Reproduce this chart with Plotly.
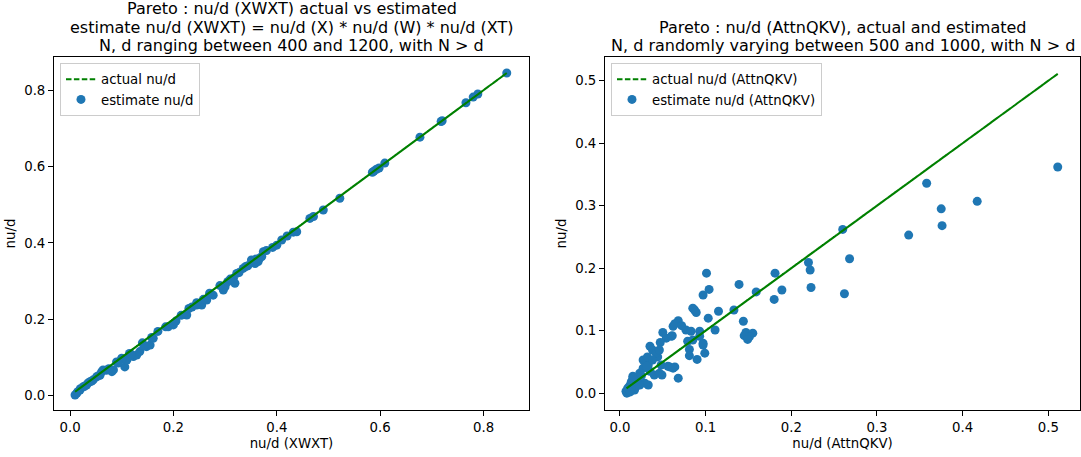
import plotly.graph_objects as go

# ---- XWXT: actual nu/d vs estimated nu/d (product of X, W, XT) ----
# values kept in the order they were computed (not sorted)
xwxt_actual = [
    0.0193, 0.845, 0.013, 0.789, 0.0097, 0.780, 0.0257, 0.766, 0.032, 0.720,
    0.0387, 0.718, 0.045, 0.677, 0.0516, 0.609, 0.061, 0.598, 0.064, 0.593,
    0.081, 0.588, 0.084, 0.585, 0.100, 0.522, 0.106, 0.490, 0.110, 0.471,
    0.1225, 0.464, 0.129, 0.4386, 0.135, 0.4096, 0.148, 0.400, 0.155, 0.374,
    0.161, 0.371, 0.190, 0.364, 0.200, 0.358, 0.2258, 0.351, 0.245, 0.335,
    0.2548, 0.3225, 0.2645, 0.316, 0.277, 0.319, 0.2966, 0.300,
    0.020, 0.432, 0.035, 0.392, 0.055, 0.367, 0.070, 0.344, 0.090, 0.327,
    0.100, 0.305, 0.115, 0.258, 0.140, 0.236, 0.170, 0.205, 0.185, 0.158,
    0.215, 0.143, 0.230, 0.118, 0.245, 0.093, 0.270, 0.075, 0.290, 0.058,
    0.310, 0.042, 0.340, 0.028, 0.360, 0.015, 0.380, 0.420,
]
xwxt_estimate = [
    0.0144, 0.845, 0.0058, 0.790, 0.0013, 0.782, 0.023, 0.767, 0.0275, 0.720,
    0.036, 0.718, 0.041, 0.677, 0.049, 0.609, 0.062, 0.596, 0.067, 0.593,
    0.0625, 0.588, 0.067, 0.585, 0.0975, 0.517, 0.075, 0.486, 0.093, 0.469,
    0.102, 0.464, 0.106, 0.429, 0.115, 0.4075, 0.128, 0.394, 0.132, 0.377,
    0.150, 0.364, 0.180, 0.351, 0.185, 0.346, 0.211, 0.355, 0.237, 0.333,
    0.237, 0.320, 0.250, 0.307, 0.263, 0.294, 0.2765, 0.285,
    0.018, 0.428, 0.033, 0.388, 0.052, 0.360, 0.066, 0.340, 0.088, 0.322,
    0.095, 0.298, 0.110, 0.252, 0.138, 0.232, 0.168, 0.195, 0.180, 0.152,
    0.210, 0.130, 0.228, 0.108, 0.243, 0.085, 0.268, 0.070, 0.288, 0.053,
    0.305, 0.038, 0.338, 0.024, 0.358, 0.010, 0.380, 0.418,
]

# ---- AttnQKV: actual nu/d vs estimated nu/d ----
attn_actual = [
    0.011, 0.511, 0.035, 0.358, 0.038, 0.417, 0.044, 0.375, 0.027, 0.376,
    0.033, 0.337, 0.035, 0.260, 0.040, 0.268, 0.049, 0.220, 0.058, 0.222,
    0.064, 0.223, 0.068, 0.262, 0.027, 0.181, 0.023, 0.189, 0.033, 0.180,
    0.029, 0.159, 0.015, 0.139, 0.014, 0.133, 0.019, 0.144, 0.042, 0.147,
    0.007, 0.155, 0.008, 0.151, 0.010, 0.145, 0.017, 0.149, 0.013, 0.101,
    0.021, 0.104, 0.032, 0.097, 0.054, 0.115, 0.087, 0.103, 0.062, 0.111,
    0.060, 0.085, 0.097, 0.089, 0.093, 0.077, 0.038, 0.083, 0.031, 0.079,
    0.048, 0.081, 0.056, 0.085, 0.062, 0.093, 0.046, 0.097, 0.023, 0.099,
    0.015, 0.090, 0.013, 0.081, 0.009, 0.068, 0.012, 0.064, 0.020, 0.061,
    0.025, 0.050, 0.072, 0.047, 0.046,
]
attn_estimate = [
    0.011, 0.362, 0.075, 0.336, 0.069, 0.307, 0.058, 0.295, 0.053, 0.268,
    0.045, 0.253, 0.035, 0.262, 0.029, 0.215, 0.029, 0.209, 0.042, 0.197,
    0.042, 0.169, 0.024, 0.159, 0.040, 0.192, 0.032, 0.165, 0.013, 0.150,
    0.016, 0.162, 0.027, 0.174, 0.019, 0.133, 0.011, 0.115, 0.064, 0.097,
    0.003, 0.096, 0.000, 0.090, 0.006, 0.092, 0.005, 0.086, 0.017, 0.192,
    0.019, 0.166, 0.058, 0.157, 0.088, 0.131, 0.133, 0.120, 0.107, 0.101,
    0.091, 0.136, 0.080, 0.129, 0.099, 0.101, 0.053, 0.099, 0.043, 0.083,
    0.045, 0.070, 0.043, 0.085, 0.040, 0.091, 0.032, 0.077, 0.013, 0.064,
    0.024, 0.054, 0.005, 0.060, 0.008, 0.116, 0.002, 0.111, 0.023, 0.092,
    0.028, 0.097, 0.108, 0.081, 0.069,
]

left_ticks = [0.0, 0.2, 0.4, 0.6, 0.8]
right_ticks = [0.0, 0.1, 0.2, 0.3, 0.4, 0.5]

left_title = [
    "Pareto : nu/d (XWXT) actual vs estimated",
    "estimate nu/d (XWXT) = nu/d (X) * nu/d (W) * nu/d (XT)",
    "N, d ranging between 400 and 1200, with N > d",
]
right_title = [
    "Pareto : nu/d (AttnQKV), actual and estimated",
    "N, d randomly varying between 500 and 1000, with N > d",
]

FONT = "DejaVu Sans"
BLUE = "#1f77b4"
GREEN = "#008000"
DASH = "5.5px,2.4px"
W, H = 1081, 457

fig = go.Figure()

# left panel: estimates first, actual line drawn on top of them
fig.add_trace(go.Scatter(
    x=xwxt_actual, y=xwxt_estimate, mode="markers", name="estimate nu/d",
    marker=dict(color=BLUE, size=9, line=dict(width=0)),
    xaxis="x", yaxis="y", legend="legend", legendrank=2,
))
fig.add_trace(go.Scatter(
    x=xwxt_actual, y=xwxt_actual, mode="lines", name="actual nu/d",
    line=dict(color=GREEN, width=2, dash=DASH, simplify=False),
    xaxis="x", yaxis="y", legend="legend", legendrank=1,
))

# right panel
fig.add_trace(go.Scatter(
    x=attn_actual, y=attn_estimate, mode="markers", name="estimate nu/d (AttnQKV)",
    marker=dict(color=BLUE, size=9, line=dict(width=0)),
    xaxis="x2", yaxis="y2", legend="legend2", legendrank=2,
))
fig.add_trace(go.Scatter(
    x=attn_actual, y=attn_actual, mode="lines", name="actual nu/d (AttnQKV)",
    line=dict(color=GREEN, width=2, dash=DASH, simplify=False),
    xaxis="x2", yaxis="y2", legend="legend2", legendrank=1,
))

# panel frames in pixels
L1, R1 = 54, 529
L2, R2 = 605, 1080
TOP, BOT = 57, 410
TITLE_STEP = 18.5
TITLE_LAST = 45.5


def px_x(p):
    return p / W


def px_y(p):
    return 1 - p / H


axis_common = dict(
    showline=True, mirror=True, linecolor="black", linewidth=1,
    ticks="outside", ticklen=5, tickwidth=1, tickcolor="black",
    showgrid=False, zeroline=False, tickformat=".1f",
    tickfont=dict(family=FONT, size=13.3, color="black"),
    title_font=dict(family=FONT, size=13.3, color="black"),
)

legend_common = dict(
    bgcolor="rgba(255,255,255,0.8)", bordercolor="#cccccc", borderwidth=1,
    font=dict(family=FONT, size=13.3, color="black"),
    xanchor="left", yanchor="top", tracegroupgap=0, itemwidth=30,
)


def title_lines(lines, cx):
    """One annotation per title line, stacked upward from the last line."""
    out = []
    n = len(lines)
    for i, txt in enumerate(lines):
        cy = TITLE_LAST - (n - 1 - i) * TITLE_STEP
        out.append(dict(
            text=txt, x=px_x(cx), y=px_y(cy), xref="paper", yref="paper",
            xanchor="center", yanchor="middle", showarrow=False,
            font=dict(family=FONT, size=16, color="black"),
        ))
    return out


fig.update_layout(
    width=W, height=H,
    margin=dict(l=0, r=0, t=0, b=0),
    paper_bgcolor="white", plot_bgcolor="white",
    font=dict(family=FONT, size=13.3, color="black"),
    xaxis=dict(axis_common, domain=[px_x(L1), px_x(R1)], range=[-0.031, 0.888],
               tickvals=left_ticks, title=dict(text="nu/d (XWXT)", standoff=4),
               anchor="y"),
    yaxis=dict(axis_common, domain=[px_y(BOT), px_y(TOP)], range=[-0.038, 0.887],
               tickvals=left_ticks, title=dict(text="nu/d", standoff=5),
               anchor="x"),
    xaxis2=dict(axis_common, domain=[px_x(L2), px_x(R2)], range=[-0.0175, 0.537],
                tickvals=right_ticks, title=dict(text="nu/d (AttnQKV)", standoff=4),
                anchor="y2"),
    yaxis2=dict(axis_common, domain=[px_y(BOT), px_y(TOP)], range=[-0.027, 0.538],
                tickvals=right_ticks, title=dict(text="nu/d", standoff=5),
                anchor="x2"),
    legend=dict(legend_common, x=px_x(60), y=px_y(63)),
    legend2=dict(legend_common, x=px_x(611), y=px_y(63)),
    annotations=title_lines(left_title, (L1 + R1) / 2)
    + title_lines(right_title, (L2 + R2) / 2),
)

fig.write_html("out.html")
